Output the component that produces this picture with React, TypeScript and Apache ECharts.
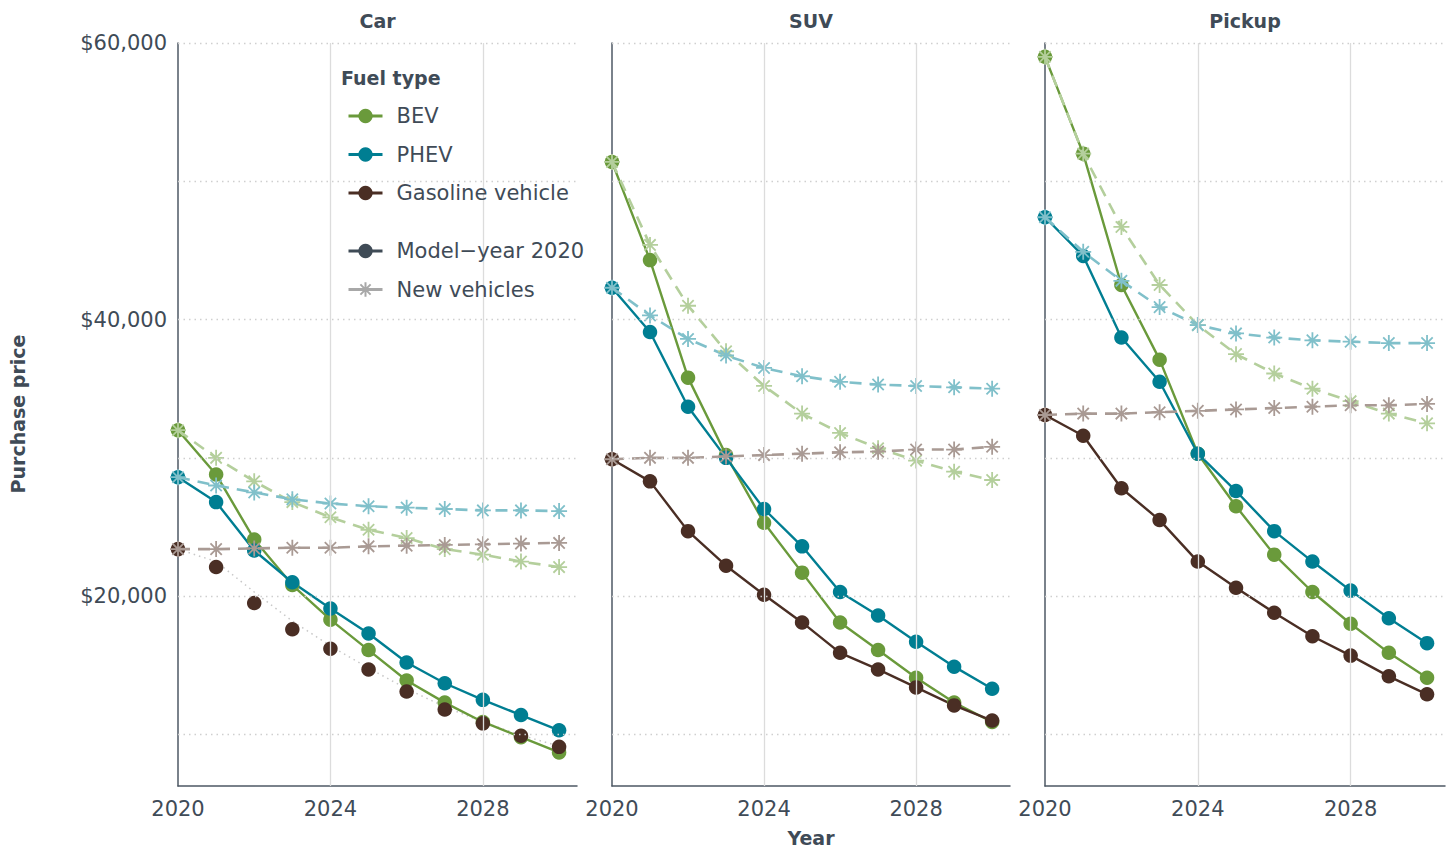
import React, { useEffect, useRef } from "react";
import * as echarts from "echarts";

const years = [2020, 2021, 2022, 2023, 2024, 2025, 2026, 2027, 2028, 2029, 2030];
const panelTitles = ["Car", "SUV", "Pickup"];
const yTickLabels = [20000, 40000, 60000];
const yGridValues = [10000, 20000, 30000, 40000, 50000, 60000];
const xGridValues = [2024, 2028];

// Car
const carBev = [32000, 28800, 24100, 20800, 18300, 16100, 13900, 12300, 10900, 9800, 8700];
const carPhev = [28600, 26800, 23300, 21000, 19100, 17300, 15200, 13700, 12500, 11400, 10300];
const carGas = [23400, 22100, 19500, 17600, 16200, 14700, 13100, 11800, 10800, 9900, 9100];
const carGasTrend = [23400, 22500, 20300, 18200, 16400, 14800, 13300, 12000, 10900, 9950, 9150];
const carBevNew = [32000, 30000, 28300, 26800, 25700, 24800, 24200, 23400, 23000, 22500, 22100];
const carPhevNew = [28600, 28000, 27500, 27000, 26700, 26500, 26400, 26300, 26200, 26200, 26150];
const carGasNew = [23400, 23400, 23450, 23500, 23500, 23600, 23650, 23700, 23750, 23800, 23850];

// SUV
const suvBev = [51400, 44300, 35800, 30200, 25300, 21700, 18100, 16100, 14100, 12300, 10900];
const suvPhev = [42300, 39100, 33700, 30000, 26300, 23600, 20300, 18600, 16700, 14900, 13300];
const suvGas = [29900, 28300, 24700, 22200, 20100, 18100, 15900, 14700, 13400, 12100, 11000];
const suvBevNew = [51400, 45400, 41000, 37700, 35200, 33200, 31800, 30700, 29800, 29000, 28400];
const suvPhevNew = [42300, 40300, 38600, 37400, 36500, 35900, 35500, 35300, 35200, 35100, 35000];
const suvGasNew = [29900, 30000, 30000, 30100, 30200, 30300, 30400, 30450, 30600, 30600, 30800];

// Pickup
const pickupBev = [59000, 52000, 42500, 37100, 30300, 26500, 23000, 20300, 18000, 15900, 14100];
const pickupPhev = [47400, 44600, 38700, 35500, 30300, 27600, 24700, 22500, 20400, 18400, 16600];
const pickupGas = [33100, 31600, 27800, 25500, 22500, 20600, 18800, 17100, 15700, 14200, 12900];
const pickupBevNew = [59000, 52000, 46700, 42500, 39600, 37500, 36100, 35000, 34100, 33200, 32500];
const pickupPhevNew = [47400, 44900, 42800, 40900, 39600, 39000, 38700, 38500, 38400, 38300, 38300];
const pickupGasNew = [33100, 33200, 33200, 33300, 33400, 33500, 33600, 33700, 33800, 33800, 33900];

const modelYear = [
  { bev: carBev, phev: carPhev, gas: carGas },
  { bev: suvBev, phev: suvPhev, gas: suvGas },
  { bev: pickupBev, phev: pickupPhev, gas: pickupGas },
];
const newVehicles = [
  { bev: carBevNew, phev: carPhevNew, gas: carGasNew },
  { bev: suvBevNew, phev: suvPhevNew, gas: suvGasNew },
  { bev: pickupBevNew, phev: pickupPhevNew, gas: pickupGasNew },
];

const FONT = "DejaVu Sans";
const TEXT = "#3f4b57";
const AXIS = "#4e5864";
const C = {
  bev: "#6a9a3b",
  phev: "#007e92",
  gas: "#4a2e24",
  bevNew: "#b4cf9c",
  phevNew: "#80c0ca",
  gasNew: "#a99a94",
  model: "#3f4b56",
  newv: "#a8a8a8",
};
const NAMES = { bev: "BEV", phev: "PHEV", gas: "Gasoline vehicle" };
const MODEL_NAME = "Model\u2212year 2020";
const NEW_NAME = "New vehicles";
const ASTERISK =
  "path://M0,-10L0,10M-10,0L10,0M-7.07,-7.07L7.07,7.07M-7.07,7.07L7.07,-7.07";
const DOT = 14.5;
const STAR = 16;

const grids = [
  { left: 178, width: 399 },
  { left: 612, width: 398 },
  { left: 1045, width: 400 },
];
const GRID_TOP = 43;
const GRID_HEIGHT = 743;

function toPairs(arr: number[]) {
  return years.map((y, k) => [y, arr[k]]);
}

function buildOption() {
  const series: any[] = [];
  (["bev", "phev", "gas"] as const).forEach((k) => {
    series.push({
      type: "line",
      name: NAMES[k],
      data: [],
      xAxisIndex: 0,
      yAxisIndex: 0,
      symbol: "circle",
      symbolSize: DOT,
      lineStyle: { color: C[k], width: 3 },
      itemStyle: { color: C[k] },
    });
  });
  series.push({
    type: "line",
    name: MODEL_NAME,
    data: [],
    xAxisIndex: 0,
    yAxisIndex: 0,
    symbol: "circle",
    symbolSize: DOT,
    lineStyle: { color: C.model, width: 3 },
    itemStyle: { color: C.model },
  });
  series.push({
    type: "line",
    name: NEW_NAME,
    data: [],
    xAxisIndex: 0,
    yAxisIndex: 0,
    symbol: ASTERISK,
    symbolSize: STAR,
    lineStyle: { color: C.newv, width: 3 },
    itemStyle: { color: C.newv, borderColor: C.newv, borderWidth: 1.8 },
  });

  for (let i = 0; i < 3; i++) {
    series.push({
      type: "line",
      name: "grid" + i,
      data: [],
      xAxisIndex: i,
      yAxisIndex: i,
      z: 1,
      silent: true,
      symbol: "none",
      markLine: {
        silent: true,
        symbol: ["none", "none"],
        label: { show: false },
        emphasis: { disabled: true },
        data: [
          ...yGridValues.map((v) => ({
            yAxis: v,
            lineStyle: { color: "#cfcfcf", width: 1.3, type: [1.5, 4] },
          })),
          ...xGridValues.map((v) => ({
            xAxis: v,
            lineStyle: { color: "#dcdcdc", width: 1.3, type: "solid" },
          })),
        ],
      },
    });
    if (i === 0) {
      series.push({
        type: "line",
        name: "gasTrend",
        data: toPairs(carGasTrend),
        xAxisIndex: 0,
        yAxisIndex: 0,
        z: 2,
        symbol: "none",
        lineStyle: { color: "#c8c8c8", width: 1.5, type: [1.5, 4] },
      });
    }
    (["bev", "phev", "gas"] as const).forEach((k) => {
      const arr = modelYear[i][k];
      if (i === 0 && k === "gas") {
        series.push({
          type: "scatter",
          name: NAMES[k],
          data: toPairs(arr),
          xAxisIndex: i,
          yAxisIndex: i,
          z: 3,
          symbol: "circle",
          symbolSize: DOT,
          itemStyle: { color: C[k], opacity: 1 },
        });
      } else {
        series.push({
          type: "line",
          name: NAMES[k],
          data: toPairs(arr),
          xAxisIndex: i,
          yAxisIndex: i,
          z: 3,
          symbol: "circle",
          symbolSize: DOT,
          showAllSymbol: true,
          lineStyle: { color: C[k], width: 2.4 },
          itemStyle: { color: C[k] },
        });
      }
    });
    (["bev", "phev", "gas"] as const).forEach((k) => {
      const arr = newVehicles[i][k];
      const col = (C as any)[k + "New"];
      series.push({
        type: "line",
        name: NAMES[k] + " new",
        data: toPairs(arr),
        xAxisIndex: i,
        yAxisIndex: i,
        z: 4,
        symbol: ASTERISK,
        symbolSize: STAR,
        showAllSymbol: true,
        lineStyle: { color: col, width: 2.6, type: [12, 8] },
        itemStyle: { color: col, borderColor: col, borderWidth: 1.8 },
      });
    });
  }

  const legendCommon = {
    orient: "vertical",
    left: 347,
    padding: 0,
    itemWidth: 34,
    itemHeight: 18,
    itemGap: 17.5,
    selectedMode: false,
    z: 10,
    lineStyle: { width: 3 },
    textStyle: {
      fontFamily: FONT,
      fontSize: 21,
      color: TEXT,
      padding: [0, 0, 0, 9],
    },
  };

  return {
    animation: false,
    backgroundColor: "#ffffff",
    grid: grids.map((g) => ({
      left: g.left,
      width: g.width,
      top: GRID_TOP,
      height: GRID_HEIGHT,
      containLabel: false,
    })),
    xAxis: grids.map((_, i) => ({
      type: "value",
      gridIndex: i,
      min: 2020,
      max: 2030.47,
      interval: 4,
      axisLine: { show: true, onZero: false, lineStyle: { color: AXIS, width: 1.5 } },
      axisTick: { show: false },
      splitLine: { show: false },
      axisLabel: {
        show: true,
        color: TEXT,
        fontFamily: FONT,
        fontSize: 21,
        margin: 12,
        showMaxLabel: false,
        formatter: (v: number) =>
          Number.isInteger(v) && v % 4 === 0 ? String(v) : "",
      },
    })),
    yAxis: grids.map((_, i) => ({
      type: "value",
      gridIndex: i,
      min: 6270,
      max: 60000,
      axisLine: { show: true, onZero: false, lineStyle: { color: AXIS, width: 1.5 } },
      axisTick: { show: false },
      splitLine: { show: false },
      axisLabel:
        i === 0
          ? {
              show: true,
              customValues: yTickLabels,
              color: TEXT,
              fontFamily: FONT,
              fontSize: 21,
              margin: 11,
              formatter: (v: number) =>
                v % 20000 === 0 && v > 0 ? "$" + v.toLocaleString("en-US") : "",
            }
          : { show: false },
    })),
    legend: [
      { ...legendCommon, top: 105.5, data: ["BEV", "PHEV", "Gasoline vehicle"] },
      { ...legendCommon, top: 240.5, data: [MODEL_NAME, NEW_NAME] },
    ],
    graphic: [
      {
        type: "rect",
        z: 5,
        silent: true,
        shape: { x: 333, y: 52, width: 262, height: 265 },
        style: { fill: "#ffffff" },
      },
      {
        type: "text",
        z: 11,
        x: 341,
        y: 78,
        style: {
          text: "Fuel type",
          fill: TEXT,
          font: `bold 19px "${FONT}"`,
          align: "left",
          verticalAlign: "middle",
          textAlign: "left",
          textVerticalAlign: "middle",
        },
      },
      ...panelTitles.map((t, i) => ({
        type: "text",
        z: 11,
        x: grids[i].left + grids[i].width / 2,
        y: 21,
        style: {
          text: t,
          fill: TEXT,
          font: `bold 19px "${FONT}"`,
          align: "center",
          verticalAlign: "middle",
          textAlign: "center",
          textVerticalAlign: "middle",
        },
      })),
      {
        type: "text",
        z: 11,
        x: 811,
        y: 838,
        style: {
          text: "Year",
          fill: TEXT,
          font: `bold 19px "${FONT}"`,
          align: "center",
          verticalAlign: "middle",
          textAlign: "center",
          textVerticalAlign: "middle",
        },
      },
      {
        type: "text",
        z: 11,
        x: 18,
        y: 414,
        rotation: Math.PI / 2,
        style: {
          text: "Purchase price",
          fill: TEXT,
          font: `bold 19px "${FONT}"`,
          align: "center",
          verticalAlign: "middle",
          textAlign: "center",
          textVerticalAlign: "middle",
        },
      },
    ],
    series,
  };
}

export default function App() {
  const ref = useRef<HTMLDivElement>(null);
  useEffect(() => {
    if (!ref.current) return;
    const chart = echarts.init(ref.current, undefined, { renderer: "svg" });
    chart.setOption(buildOption() as any);
    return () => chart.dispose();
  }, []);
  return (
    <div
      ref={ref}
      style={{ position: "fixed", left: 0, top: 0, width: 1453, height: 852, background: "#fff" }}
    />
  );
}
